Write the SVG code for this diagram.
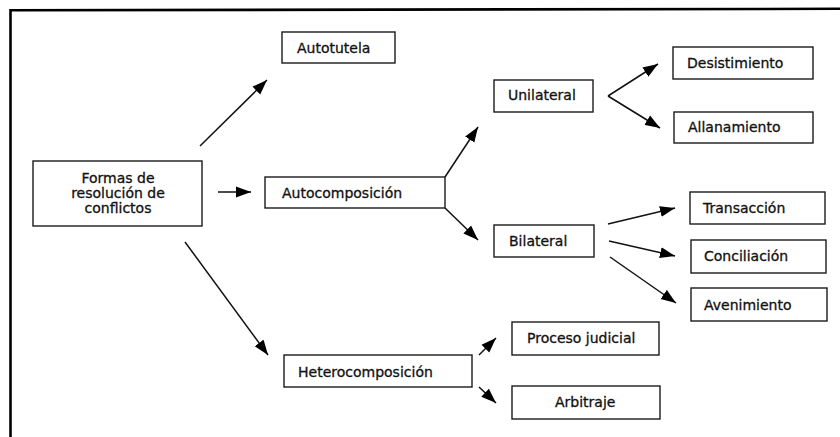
<svg xmlns="http://www.w3.org/2000/svg" width="840" height="437" viewBox="0 0 840 437">
  <style>
    .box { fill: #ffffff; stroke: #1a1a1a; stroke-width: 1.4; }
    .lbl { font-family: "DejaVu Sans", Verdana, sans-serif; font-size: 14px; fill: #111111; stroke: #111111; stroke-width: 0.3; }
    .mid { text-anchor: middle; }
    .con { stroke: #111111; stroke-width: 1.5; fill: none; }
    .arr { marker-end: url(#head); }
    .frame { stroke: #000000; stroke-width: 2.6; fill: none; }
  </style>
  <defs>
    <marker id="head" markerUnits="userSpaceOnUse" markerWidth="16" markerHeight="12" refX="15" refY="6" orient="auto">
      <path d="M0,0.5 L15,6 L0,11.5 Z" fill="#000000"/>
    </marker>
  </defs>

  <rect width="840" height="437" fill="#ffffff"/>

  <!-- page frame: top and left rules -->
  <path class="frame" d="M10.5,437 L10.5,10.3 L840,8.8"/>

  <!-- connectors -->
  <g id="connectors">
    <line class="con arr" x1="200" y1="146" x2="267" y2="80"/>
    <line class="con arr" x1="218" y1="192" x2="251" y2="192"/>
    <line class="con arr" x1="185" y1="242" x2="268" y2="355"/>
    <line class="con arr" x1="445" y1="177" x2="478" y2="127"/>
    <line class="con arr" x1="445" y1="208" x2="478" y2="240"/>
    <line class="con arr" x1="608" y1="96" x2="658" y2="64"/>
    <line class="con arr" x1="608" y1="96" x2="660" y2="128"/>
    <line class="con arr" x1="608" y1="224" x2="675" y2="208"/>
    <line class="con arr" x1="609" y1="241" x2="675" y2="256"/>
    <line class="con arr" x1="610" y1="257" x2="676" y2="303"/>
    <line class="con arr" x1="479" y1="355" x2="496" y2="338"/>
    <line class="con arr" x1="479" y1="387" x2="496" y2="403"/>
  </g>

  <g id="formas">
    <rect class="box" x="33" y="161" width="169" height="65"/>
    <text class="lbl mid" x="118" y="183">Formas de</text>
    <text class="lbl mid" x="118" y="198">resolución de</text>
    <text class="lbl mid" x="118" y="213">conflictos</text>
  </g>

  <g id="autotutela">
    <rect class="box" x="282" y="32" width="113" height="31"/>
    <text class="lbl" x="297" y="53">Autotutela</text>
  </g>

  <g id="autocomposicion">
    <rect class="box" x="265" y="177" width="180" height="31"/>
    <text class="lbl" x="282" y="198">Autocomposición</text>
  </g>

  <g id="heterocomposicion">
    <rect class="box" x="284" y="355" width="188" height="32"/>
    <text class="lbl" x="298" y="377">Heterocomposición</text>
  </g>

  <g id="unilateral">
    <rect class="box" x="494" y="80" width="99" height="32"/>
    <text class="lbl" x="508" y="100">Unilateral</text>
  </g>

  <g id="bilateral">
    <rect class="box" x="494" y="225" width="100" height="32"/>
    <text class="lbl" x="509" y="246">Bilateral</text>
  </g>

  <g id="desistimiento">
    <rect class="box" x="673" y="47" width="140" height="32"/>
    <text class="lbl" x="687" y="68">Desistimiento</text>
  </g>

  <g id="allanamiento">
    <rect class="box" x="674" y="112" width="139" height="31"/>
    <text class="lbl" x="688" y="132">Allanamiento</text>
  </g>

  <g id="transaccion">
    <rect class="box" x="690" y="192" width="135" height="32"/>
    <text class="lbl" x="703" y="213">Transacción</text>
  </g>

  <g id="conciliacion">
    <rect class="box" x="691" y="240" width="135" height="33"/>
    <text class="lbl" x="704" y="261">Conciliación</text>
  </g>

  <g id="avenimiento">
    <rect class="box" x="691" y="288" width="136" height="33"/>
    <text class="lbl" x="704" y="310">Avenimiento</text>
  </g>

  <g id="proceso-judicial">
    <rect class="box" x="512" y="322" width="147" height="33"/>
    <text class="lbl" x="527" y="343">Proceso judicial</text>
  </g>

  <g id="arbitraje">
    <rect class="box" x="512" y="386" width="148" height="33"/>
    <text class="lbl" x="555" y="407">Arbitraje</text>
  </g>
</svg>
